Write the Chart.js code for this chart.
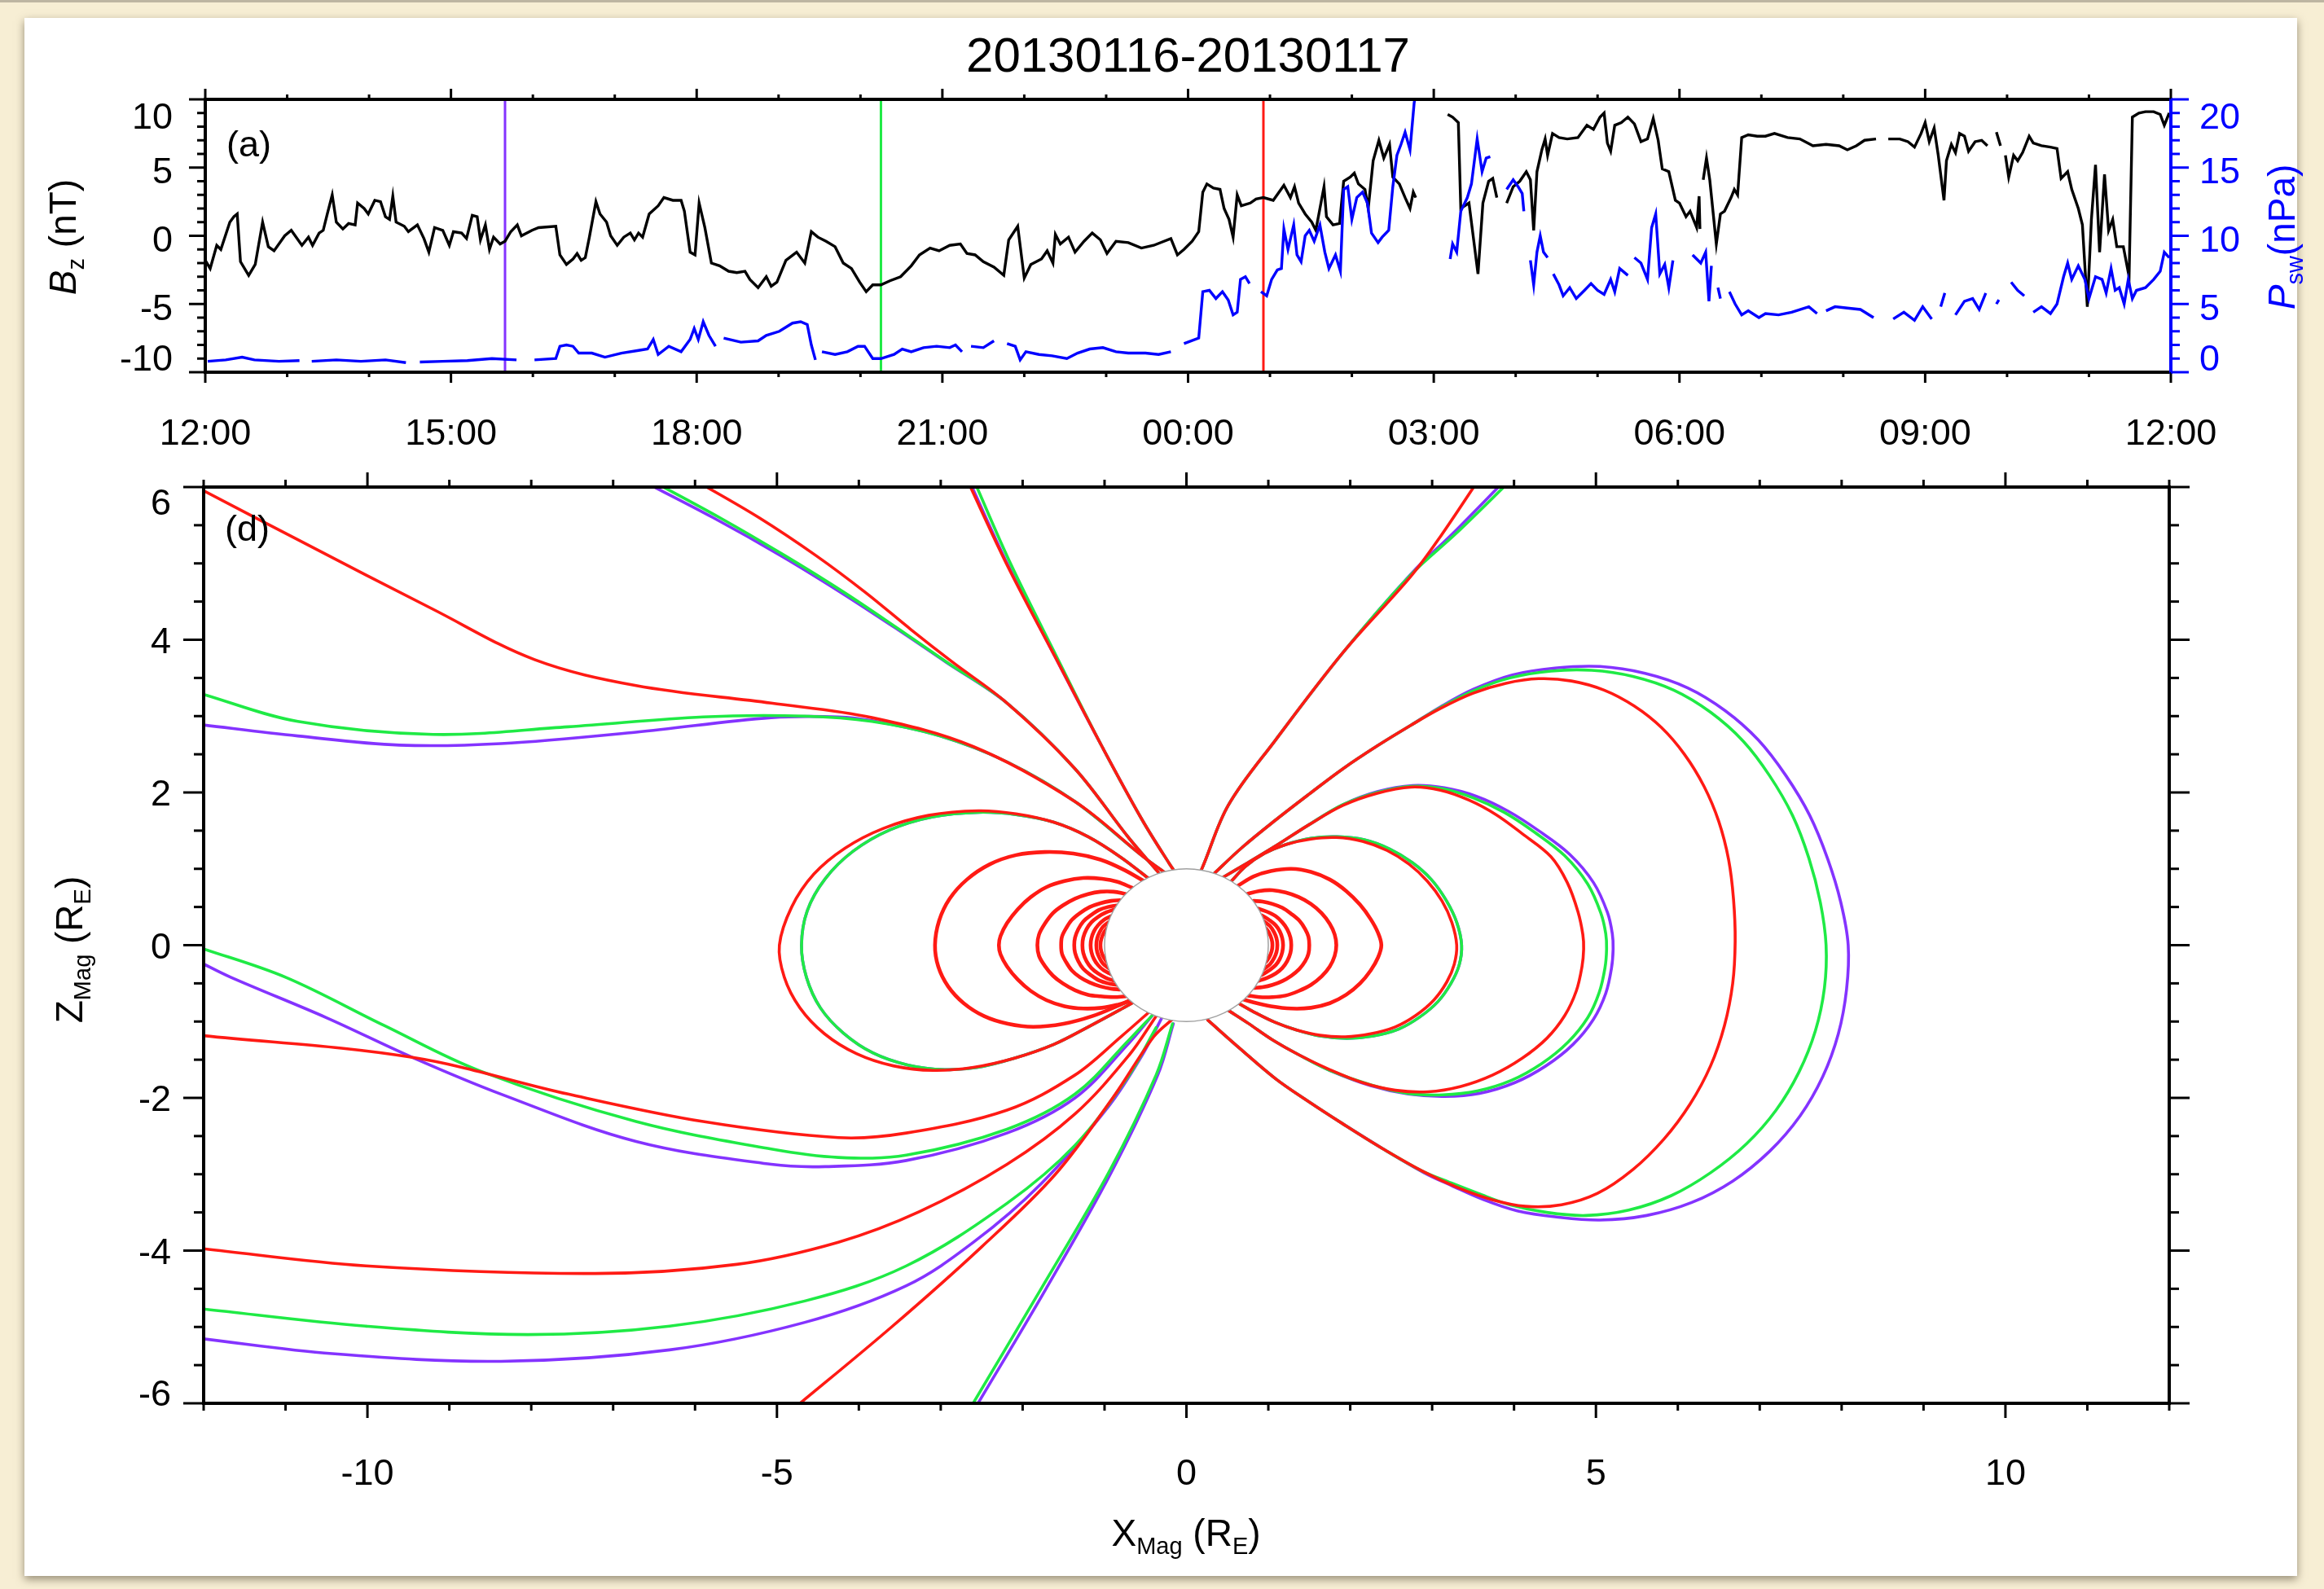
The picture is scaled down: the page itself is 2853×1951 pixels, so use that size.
<!DOCTYPE html>
<html lang="en">
<head>
<meta charset="UTF-8">
<title>20130116-20130117</title>
<script src="https://cdn.jsdelivr.net/npm/chart.js"></script>
<style>
  body { margin: 0; width: 2853px; height: 1951px; background: #f7eed4; overflow: hidden; position: relative; }
  .topline { position: absolute; left: 0; top: 0; width: 2853px; height: 3px; background: #bdb5a2; }
  .panel { position: absolute; left: 30px; top: 22px; width: 2790px; height: 1913px; background: #fff;
           box-shadow: 0 4px 10px rgba(70, 60, 40, 0.55); }
  canvas { position: absolute; left: 0; top: 0; }
</style>
</head>
<body>
<div class="topline"></div>
<div class="panel"></div>
<canvas id="swChart" width="2853" height="1951"></canvas>
<canvas id="fieldChart" width="2853" height="1951"></canvas>
<script>
// ---- panel (a): solar wind Bz and dynamic pressure, hours after 12:00 UT on 16 Jan ----
const timeLabels = ['12:00', '15:00', '18:00', '21:00', '00:00', '03:00', '06:00', '09:00', '12:00'];
const bzTicks = [-10, -5, 0, 5, 10];
const pswTicks = [0, 5, 10, 15, 20];
const markerHours = [3.66, 8.25, 12.92];

const bzSeries = [
  [0.00,-1.8],[0.06,-2.4],[0.14,-0.7],[0.19,-1.0],[0.30,1.0],[0.35,1.4],[0.39,1.6],[0.43,-1.9],[0.53,-2.9],[0.61,-2.1],
  [0.70,1.0],[0.77,-0.8],[0.84,-1.1],[0.97,0.0],[1.05,0.4],[1.18,-0.7],[1.26,-0.1],[1.31,-0.7],[1.39,0.2],[1.44,0.4],
  [1.49,1.6],[1.55,3.0],[1.60,1.0],[1.68,0.5],[1.75,0.9],[1.83,0.8],[1.86,2.4],[1.94,2.0],[1.99,1.6],[2.07,2.6],
  [2.14,2.5],[2.20,1.4],[2.25,1.2],[2.29,2.9],[2.33,1.0],[2.43,0.7],[2.48,0.3],[2.59,0.8],[2.67,-0.2],[2.73,-1.2],
  [2.80,0.6],[2.90,0.4],[2.98,-0.7],[3.03,0.3],[3.13,0.2],[3.19,-0.2],[3.26,1.5],[3.32,1.4],[3.36,-0.3],[3.42,0.8],
  [3.47,-1.0],[3.52,-0.1],[3.60,-0.6],[3.66,-0.4],[3.73,0.3],[3.81,0.8],[3.86,0.0],[3.99,0.4],[4.07,0.6],[4.28,0.7],
  [4.33,-1.4],[4.41,-2.1],[4.49,-1.7],[4.54,-1.3],[4.59,-1.8],[4.64,-1.6],[4.69,-0.1],[4.77,2.5],[4.82,1.6],[4.90,1.0],
  [4.95,0.0],[5.03,-0.7],[5.11,-0.1],[5.19,0.2],[5.24,-0.3],[5.29,0.2],[5.34,-0.1],[5.42,1.6],[5.53,2.2],[5.60,2.8],
  [5.71,2.6],[5.81,2.6],[5.85,1.8],[5.92,-1.2],[5.98,-1.4],[6.03,2.4],[6.10,0.6],[6.18,-2.0],[6.28,-2.2],[6.39,-2.6],
  [6.49,-2.7],[6.59,-2.6],[6.65,-3.2],[6.75,-3.8],[6.85,-3.0],[6.91,-3.7],[6.98,-3.4],[7.09,-1.8],[7.22,-1.2],[7.32,-2.0],
  [7.40,0.3],[7.48,-0.1],[7.58,-0.4],[7.69,-0.8],[7.79,-2.0],[7.89,-2.4],[7.99,-3.4],[8.07,-4.1],[8.15,-3.6],[8.25,-3.6],
  [8.36,-3.3],[8.49,-3.0],[8.62,-2.2],[8.72,-1.4],[8.85,-0.9],[8.96,-1.1],[9.09,-0.7],[9.22,-0.6],[9.30,-1.3],[9.40,-1.4],
  [9.50,-1.9],[9.63,-2.3],[9.75,-2.9],[9.81,-0.3],[9.92,0.7],[10.00,-3.1],[10.08,-2.1],[10.21,-1.7],[10.28,-1.1],[10.35,-2.0],
  [10.38,0.1],[10.44,-0.6],[10.54,-0.1],[10.62,-1.2],[10.73,-0.4],[10.83,0.2],[10.93,-0.3],[11.01,-1.3],[11.12,-0.4],[11.27,-0.5],
  [11.43,-0.9],[11.58,-0.7],[11.79,-0.2],[11.87,-1.4],[11.95,-1.0],[12.05,-0.4],[12.13,0.3],[12.18,3.2],[12.23,3.8],[12.31,3.5],
  [12.39,3.4],[12.44,2.0],[12.50,1.2],[12.55,-0.1],[12.60,3.0],[12.65,2.2],[12.76,2.4],[12.83,2.7],[12.92,2.8],[13.04,2.6],
  [13.17,3.7],[13.25,2.8],[13.30,3.6],[13.35,2.4],[13.43,1.6],[13.51,1.0],[13.56,0.4],[13.66,3.6],[13.69,1.4],[13.77,0.8],
  [13.85,0.9],[13.90,4.0],[13.98,4.3],[14.03,4.6],[14.08,3.8],[14.16,3.4],[14.20,2.0],[14.26,5.5],[14.33,7.0],[14.39,5.7],
  [14.46,6.7],[14.50,4.3],[14.58,3.8],[14.65,2.8],[14.71,2.0],[14.75,3.2],[14.78,2.8],[15.00,null],[15.17,8.9],[15.23,8.7],
  [15.30,8.3],[15.33,2.0],[15.43,2.4],[15.54,-2.8],[15.60,2.4],[15.67,4.0],[15.72,4.2],[15.77,2.8],[15.83,null],[15.89,2.4],
  [15.97,3.6],[16.05,4.0],[16.13,4.7],[16.18,4.1],[16.22,0.4],[16.26,4.7],[16.32,6.3],[16.36,7.1],[16.39,5.9],[16.45,7.5],
  [16.53,7.2],[16.63,7.1],[16.76,7.2],[16.87,8.1],[16.95,7.8],[17.03,8.7],[17.08,9.0],[17.12,6.8],[17.16,6.2],[17.21,8.1],
  [17.29,8.3],[17.37,8.7],[17.45,8.2],[17.53,6.9],[17.61,7.1],[17.68,8.6],[17.74,7.0],[17.79,4.9],[17.87,4.7],[17.95,2.6],
  [18.00,2.4],[18.08,1.4],[18.13,1.8],[18.21,0.6],[18.24,2.9],[18.25,0.5],[18.27,null],[18.29,4.1],[18.33,5.7],[18.37,4.1],
  [18.45,-0.6],[18.50,1.6],[18.55,1.8],[18.63,2.8],[18.67,3.4],[18.71,3.0],[18.76,7.2],[18.84,7.4],[18.95,7.3],[19.05,7.3],
  [19.16,7.5],[19.32,7.2],[19.47,7.1],[19.63,6.6],[19.79,6.7],[19.95,6.6],[20.05,6.3],[20.16,6.6],[20.26,7.0],[20.40,7.1],
  [20.47,null],[20.55,7.1],[20.69,7.1],[20.79,6.9],[20.87,6.5],[20.95,7.5],[21.00,8.3],[21.05,6.9],[21.11,7.9],[21.16,5.9],
  [21.23,2.6],[21.26,5.5],[21.32,6.7],[21.37,6.1],[21.42,7.5],[21.48,7.3],[21.53,6.2],[21.61,6.9],[21.69,7.0],[21.76,6.6],
  [21.82,null],[21.87,7.6],[21.92,6.6],[21.95,null],[21.98,5.9],[22.02,4.3],[22.08,5.9],[22.13,5.5],[22.19,6.1],[22.27,7.3],
  [22.32,6.8],[22.42,6.6],[22.53,6.5],[22.61,6.4],[22.66,4.2],[22.74,4.7],[22.79,3.4],[22.87,2.0],[22.92,0.8],[22.98,-5.2],
  [23.03,1.2],[23.08,5.2],[23.13,-1.2],[23.19,4.5],[23.24,0.4],[23.29,1.2],[23.34,-0.8],[23.42,-0.8],[23.49,-3.0],[23.53,8.7],
  [23.61,9.0],[23.69,9.1],[23.79,9.1],[23.87,8.9],[23.92,8.1],[23.98,9.0]
];

const pswSeries = [
  [0.03,0.8],[0.25,0.9],[0.45,1.1],[0.60,0.9],[0.90,0.8],[1.15,0.85],[1.22,null],[1.30,0.8],[1.60,0.9],[1.90,0.8],
  [2.20,0.9],[2.45,0.7],[2.55,null],[2.62,0.75],[2.90,0.8],[3.20,0.85],[3.50,1.0],[3.80,0.9],[3.95,null],[4.02,0.9],
  [4.28,1.0],[4.33,1.9],[4.41,2.0],[4.49,1.9],[4.56,1.4],[4.72,1.4],[4.88,1.1],[5.08,1.4],[5.29,1.6],[5.40,1.7],
  [5.47,2.4],[5.53,1.3],[5.66,1.9],[5.81,1.5],[5.92,2.4],[5.97,3.2],[6.02,2.4],[6.08,3.7],[6.15,2.7],[6.23,1.9],
  [6.28,null],[6.33,2.5],[6.54,2.2],[6.75,2.3],[6.85,2.7],[7.01,3.0],[7.17,3.6],[7.27,3.7],[7.35,3.5],[7.40,2.0],
  [7.45,0.9],[7.49,null],[7.53,1.5],[7.69,1.3],[7.84,1.5],[7.97,1.9],[8.05,1.9],[8.15,1.0],[8.25,1.0],[8.41,1.3],
  [8.51,1.7],[8.62,1.5],[8.77,1.8],[8.93,1.9],[9.09,1.8],[9.16,2.0],[9.24,1.5],[9.30,null],[9.35,1.9],[9.50,1.8],
  [9.63,2.3],[9.70,null],[9.79,2.1],[9.89,1.9],[9.95,0.9],[10.02,1.5],[10.18,1.3],[10.34,1.2],[10.52,1.0],[10.65,1.4],
  [10.80,1.7],[10.96,1.8],[11.12,1.5],[11.27,1.4],[11.48,1.4],[11.64,1.3],[11.79,1.5],[11.87,null],[11.95,2.1],[12.13,2.5],
  [12.18,5.9],[12.26,6.0],[12.34,5.4],[12.42,5.9],[12.49,5.3],[12.55,4.2],[12.60,4.4],[12.64,6.8],[12.70,7.0],[12.75,6.5],
  [12.82,null],[12.89,5.9],[12.96,5.6],[13.02,6.8],[13.09,7.5],[13.14,7.6],[13.17,10.5],[13.22,9.0],[13.29,10.8],[13.33,8.6],
  [13.38,8.1],[13.43,10.0],[13.48,10.4],[13.54,9.6],[13.61,10.8],[13.67,8.8],[13.72,7.6],[13.80,8.6],[13.86,7.4],[13.90,13.4],
  [13.95,13.6],[14.00,11.2],[14.06,12.8],[14.13,13.2],[14.19,12.4],[14.24,10.2],[14.32,9.5],[14.37,9.9],[14.45,10.4],[14.50,13.6],
  [14.55,15.9],[14.60,16.7],[14.65,17.6],[14.71,16.3],[14.76,19.7],[14.78,20.5],[15.00,null],[15.20,8.3],[15.23,9.4],[15.28,8.8],
  [15.33,11.8],[15.41,12.8],[15.46,13.8],[15.53,17.1],[15.59,14.7],[15.64,15.7],[15.69,15.8],[15.80,null],[15.89,13.4],[15.97,14.1],
  [16.03,13.6],[16.08,13.1],[16.10,11.8],[16.14,null],[16.18,8.2],[16.22,6.4],[16.26,8.8],[16.30,10.0],[16.34,8.8],[16.39,8.4],
  [16.42,null],[16.46,7.2],[16.53,6.4],[16.58,5.6],[16.66,6.2],[16.74,5.4],[16.84,6.0],[16.92,6.5],[17.00,6.0],[17.08,5.7],
  [17.16,6.8],[17.21,5.9],[17.27,7.6],[17.37,7.1],[17.41,null],[17.45,8.4],[17.53,8.0],[17.61,6.8],[17.66,10.6],[17.71,11.6],
  [17.76,7.2],[17.82,7.9],[17.87,6.2],[17.92,8.2],[18.04,null],[18.16,8.6],[18.26,8.0],[18.32,8.8],[18.36,5.2],[18.39,7.8],
  [18.43,null],[18.47,6.2],[18.50,5.4],[18.55,null],[18.61,5.9],[18.68,5.0],[18.76,4.2],[18.84,4.5],[18.97,4.0],[19.05,4.3],
  [19.21,4.2],[19.37,4.4],[19.58,4.8],[19.68,4.3],[19.73,null],[19.79,4.5],[19.90,4.8],[20.05,4.7],[20.21,4.6],[20.37,4.0],
  [20.50,null],[20.61,3.9],[20.74,4.4],[20.87,3.8],[20.97,4.8],[21.08,3.9],[21.14,null],[21.19,4.8],[21.24,5.8],[21.30,null],
  [21.37,4.2],[21.48,5.2],[21.58,5.4],[21.66,4.6],[21.74,5.8],[21.82,null],[21.87,5.0],[21.90,5.3],[21.97,null],[22.05,6.6],
  [22.13,6.0],[22.21,5.6],[22.27,null],[22.32,4.4],[22.42,4.8],[22.53,4.3],[22.61,5.0],[22.69,7.0],[22.74,8.0],[22.79,6.8],
  [22.87,7.8],[22.95,6.8],[23.00,5.4],[23.08,7.0],[23.16,6.8],[23.21,5.8],[23.27,7.6],[23.32,6.0],[23.37,6.2],[23.43,5.0],
  [23.48,6.8],[23.53,5.4],[23.58,6.0],[23.69,6.2],[23.79,6.8],[23.87,7.4],[23.92,8.8],[23.98,8.4]
];

// ---- panel (d): field lines in the X-Z magnetic plane, Earth radii ----
const xTicks = [-10, -5, 0, 5, 10];
const zTicks = [-6, -4, -2, 0, 2, 4, 6];
const earthRadius = 1;

// closed loops that sit on top of each other for all three times
const innerLoops = [
  [[-0.97,0.22],[-1.01,0.16],[-1.04,0.08],[-1.05,0],[-1.04,-0.08],[-1.01,-0.16],[-0.97,-0.22]],
  [[-0.95,0.30],[-1.02,0.24],[-1.06,0.17],[-1.09,0.09],[-1.10,0],[-1.09,-0.09],[-1.06,-0.17],[-1.02,-0.24],[-0.95,-0.30]],
  [[-0.92,0.38],[-1.01,0.33],[-1.08,0.26],[-1.13,0.18],[-1.16,0.09],[-1.17,0],[-1.16,-0.09],[-1.13,-0.18],[-1.08,-0.26],[-1.01,-0.33],[-0.92,-0.38]],
  [[-0.87,0.47],[-0.98,0.43],[-1.08,0.37],[-1.16,0.30],[-1.22,0.21],[-1.26,0.10],[-1.27,0],[-1.26,-0.10],[-1.22,-0.21],[-1.16,-0.30],[-1.08,-0.37],[-0.98,-0.43],[-0.87,-0.47]],
  [[-0.85,0.52],[-0.96,0.50],[-1.07,0.46],[-1.17,0.39],[-1.26,0.31],[-1.32,0.21],[-1.36,0.10],[-1.37,0],[-1.36,-0.10],[-1.32,-0.21],[-1.26,-0.31],[-1.17,-0.39],[-1.07,-0.46],[-0.96,-0.50],[-0.85,-0.52]],
  [[-0.81,0.59],[-0.92,0.58],[-1.05,0.55],[-1.18,0.50],[-1.30,0.42],[-1.40,0.33],[-1.47,0.22],[-1.52,0.11],[-1.53,0],[-1.52,-0.11],[-1.47,-0.22],[-1.40,-0.33],[-1.30,-0.42],[-1.18,-0.49],[-1.05,-0.54],[-0.92,-0.57],[-0.81,-0.58]],
  [[-0.74,0.67],[-0.89,0.70],[-1.05,0.70],[-1.20,0.67],[-1.36,0.61],[-1.51,0.52],[-1.63,0.42],[-1.73,0.28],[-1.80,0.14],[-1.82,0],[-1.80,-0.14],[-1.73,-0.27],[-1.63,-0.40],[-1.51,-0.50],[-1.36,-0.59],[-1.20,-0.65],[-1.05,-0.67],[-0.89,-0.68],[-0.74,-0.67]],
  [[-0.66,0.75],[-0.84,0.83],[-1.03,0.87],[-1.26,0.88],[-1.49,0.84],[-1.71,0.76],[-1.90,0.63],[-2.06,0.47],[-2.19,0.29],[-2.27,0.12],[-2.29,0],[-2.27,-0.12],[-2.19,-0.28],[-2.06,-0.45],[-1.90,-0.60],[-1.71,-0.72],[-1.49,-0.80],[-1.26,-0.83],[-1.03,-0.82],[-0.84,-0.78],[-0.68,-0.73]],
  [[-0.46,0.80],[-0.75,0.98],[-1.05,1.12],[-1.38,1.20],[-1.73,1.22],[-2.08,1.18],[-2.40,1.06],[-2.68,0.86],[-2.89,0.61],[-3.02,0.32],[-3.07,0],[-3.03,-0.28],[-2.91,-0.54],[-2.72,-0.76],[-2.47,-0.93],[-2.18,-1.03],[-1.87,-1.07],[-1.50,-1.03],[-1.15,-0.93],[-0.85,-0.80],[-0.55,-0.65]],
  [[0.97,0.22],[1.01,0.16],[1.04,0.08],[1.05,0],[1.04,-0.08],[1.01,-0.16],[0.97,-0.22]],
  [[0.95,0.31],[1.02,0.25],[1.07,0.17],[1.10,0.09],[1.11,0],[1.10,-0.09],[1.07,-0.17],[1.02,-0.25],[0.95,-0.31]],
  [[0.92,0.39],[1.01,0.33],[1.09,0.26],[1.14,0.18],[1.17,0.09],[1.18,0],[1.17,-0.09],[1.14,-0.18],[1.09,-0.26],[1.01,-0.33],[0.92,-0.39]],
  [[0.87,0.48],[0.98,0.44],[1.09,0.38],[1.17,0.30],[1.23,0.21],[1.27,0.10],[1.28,0],[1.27,-0.10],[1.23,-0.21],[1.17,-0.30],[1.09,-0.37],[0.98,-0.43],[0.87,-0.47]],
  [[0.82,0.58],[0.93,0.57],[1.05,0.54],[1.17,0.49],[1.28,0.41],[1.38,0.32],[1.45,0.21],[1.49,0.11],[1.50,0],[1.49,-0.11],[1.45,-0.21],[1.38,-0.31],[1.28,-0.40],[1.17,-0.47],[1.05,-0.52],[0.93,-0.55],[0.82,-0.56]],
  [[0.74,0.67],[0.89,0.71],[1.05,0.72],[1.21,0.69],[1.37,0.63],[1.52,0.54],[1.65,0.42],[1.75,0.28],[1.81,0.14],[1.83,0],[1.81,-0.14],[1.75,-0.28],[1.65,-0.41],[1.52,-0.52],[1.37,-0.60],[1.21,-0.66],[1.05,-0.68],[0.89,-0.68],[0.75,-0.66]],
  [[0.63,0.78],[0.82,0.90],[1.03,0.97],[1.28,1.0],[1.52,0.96],[1.75,0.86],[1.95,0.71],[2.12,0.53],[2.25,0.34],[2.34,0.16],[2.38,0],[2.34,-0.16],[2.25,-0.33],[2.12,-0.50],[1.95,-0.65],[1.75,-0.76],[1.52,-0.82],[1.28,-0.83],[1.03,-0.80],[0.82,-0.75],[0.66,-0.70]]
];

const redLines = [
  [[-12.05,5.98],[-10.85,5.31],[-9.2,4.40],[-7.96,3.74],[-6.72,3.40],[-5.07,3.17],[-3.84,2.98],[-2.60,2.60],[-1.36,1.88],[-0.54,1.17],[-0.2,0.9]],
  [[-6.02,6.1],[-5.22,5.6],[-4.52,5.1],[-3.92,4.62],[-3.36,4.13],[-2.86,3.71],[-2.19,3.17],[-1.36,2.31],[-0.70,1.40],[-0.3,0.9]],
  [[-2.68,6.1],[-2.19,4.98],[-1.61,3.79],[-1.03,2.60],[-0.54,1.64],[-0.21,1.07],[-0.1,0.9]],
  [[-0.41,0.83],[-0.80,1.15],[-1.20,1.42],[-1.62,1.61],[-2.08,1.72],[-2.54,1.76],[-3.15,1.70],[-3.70,1.53],[-4.17,1.27],[-4.55,0.93],[-4.82,0.50],[-4.97,0],[-4.91,-0.42],[-4.72,-0.82],[-4.42,-1.16],[-4.03,-1.42],[-3.58,-1.58],[-3.09,-1.64],[-2.60,-1.60],[-2.10,-1.48],[-1.62,-1.30],[-1.18,-1.06],[-0.80,-0.84],[-0.50,-0.66]],
  [[-12.05,-1.18],[-9.45,-1.47],[-7.55,-1.95],[-5.90,-2.31],[-4.25,-2.52],[-3.42,-2.46],[-2.19,-2.16],[-1.36,-1.70],[-0.79,-1.19],[-0.46,-0.88]],
  [[-12.05,-3.97],[-10.02,-4.20],[-7.22,-4.30],[-5.49,-4.18],[-4.25,-3.89],[-3.26,-3.49],[-2.19,-2.87],[-1.36,-2.21],[-0.70,-1.44],[-0.37,-0.93]],
  [[-4.83,-6.1],[-3.6,-5.0],[-2.5,-3.95],[-1.6,-3.0],[-0.9,-2.0],[-0.4,-1.2],[-0.15,-0.95]],
  [[0.1,0.85],[0.18,0.98],[0.51,1.83],[1.09,2.69],[1.91,3.83],[2.74,4.83],[3.10,5.35],[3.57,6.1]],
  [[0.55,0.84],[0.72,1.03],[0.95,1.20],[1.22,1.32],[1.52,1.39],[1.83,1.41],[2.15,1.36],[2.45,1.24],[2.72,1.06],[2.94,0.84],[3.12,0.58],[3.24,0.30],[3.30,0],[3.27,-0.25],[3.18,-0.48],[3.02,-0.72],[2.80,-0.92],[2.55,-1.07],[2.25,-1.16],[1.94,-1.20],[1.63,-1.18],[1.34,-1.11],[1.08,-1.01],[0.85,-0.89],[0.65,-0.77]],
  [[0.45,0.89],[0.75,1.08],[1.09,1.30],[1.50,1.58],[1.91,1.83],[2.33,1.99],[2.74,2.07],[3.10,2.03],[3.45,1.90],[3.78,1.71],[4.10,1.46],[4.45,1.16],[4.65,0.82],[4.78,0.44],[4.84,0.14],[4.85,-0.05],[4.83,-0.28],[4.76,-0.60],[4.62,-0.92],[4.40,-1.22],[4.10,-1.48],[3.74,-1.70],[3.35,-1.85],[2.95,-1.92],[2.55,-1.90],[2.15,-1.80],[1.75,-1.63],[1.38,-1.44],[1.05,-1.24],[0.75,-1.02],[0.52,-0.86]],
  [[0.3,0.9],[0.68,1.28],[1.09,1.64],[1.50,1.98],[1.91,2.31],[2.33,2.61],[2.74,2.88],[3.10,3.10],[3.50,3.30],[3.90,3.43],[4.30,3.49],[4.70,3.46],[5.10,3.34],[5.47,3.13],[5.80,2.85],[6.08,2.50],[6.32,2.08],[6.50,1.62],[6.62,1.12],[6.68,0.60],[6.70,0.05],[6.67,-0.50],[6.57,-1.05],[6.40,-1.58],[6.15,-2.08],[5.83,-2.54],[5.45,-2.94],[5.02,-3.25],[4.58,-3.40],[4.14,-3.42],[3.72,-3.33],[3.30,-3.17],[2.90,-2.97],[2.42,-2.68],[1.91,-2.34],[1.48,-2.04],[1.09,-1.75],[0.65,-1.35],[0.26,-0.98]]
];

const greenLines = [
  [[-12.05,3.30],[-10.85,2.93],[-9.2,2.76],[-7.55,2.86],[-5.90,2.99],[-4.66,3.0],[-3.84,2.93],[-3.01,2.74],[-2.19,2.40],[-1.36,1.88],[-0.54,1.17],[-0.2,0.9]],
  [[-6.56,6.1],[-5.70,5.6],[-4.90,5.1],[-4.18,4.62],[-3.50,4.13],[-2.93,3.71],[-2.19,3.17],[-1.36,2.31],[-0.70,1.40],[-0.3,0.9]],
  [[-2.60,6.1],[-2.14,4.98],[-1.59,3.79],[-1.03,2.60],[-0.54,1.64],[-0.21,1.07],[-0.1,0.9]],
  [[-0.41,0.83],[-0.80,1.15],[-1.20,1.42],[-1.62,1.61],[-2.08,1.71],[-2.54,1.74],[-3.10,1.68],[-3.62,1.51],[-4.07,1.23],[-4.41,0.87],[-4.63,0.45],[-4.70,0],[-4.64,-0.42],[-4.47,-0.82],[-4.19,-1.15],[-3.83,-1.41],[-3.40,-1.57],[-2.95,-1.63],[-2.55,-1.60],[-2.10,-1.48],[-1.62,-1.30],[-1.18,-1.06],[-0.80,-0.84],[-0.50,-0.66]],
  [[-12.05,-0.03],[-11.0,-0.42],[-9.8,-1.05],[-8.62,-1.65],[-6.72,-2.31],[-5.07,-2.67],[-4.25,-2.78],[-3.42,-2.75],[-2.19,-2.41],[-1.36,-1.95],[-0.70,-1.24],[-0.4,-0.9]],
  [[-12.05,-4.76],[-10.02,-4.99],[-8.04,-5.10],[-6.31,-4.99],[-4.66,-4.66],[-3.42,-4.20],[-2.19,-3.38],[-1.36,-2.62],[-0.70,-1.70],[-0.37,-1.08]],
  [[-2.66,-6.1],[-1.78,-4.51],[-0.95,-2.98],[-0.37,-1.70],[-0.17,-1.03]],
  [[0.1,0.85],[0.18,0.98],[0.51,1.83],[1.09,2.69],[1.91,3.83],[2.74,4.85],[3.30,5.40],[3.97,6.1]],
  [[0.55,0.84],[0.72,1.03],[0.95,1.20],[1.22,1.32],[1.52,1.40],[1.84,1.42],[2.17,1.38],[2.48,1.26],[2.76,1.08],[2.99,0.86],[3.17,0.59],[3.30,0.30],[3.36,0],[3.33,-0.26],[3.23,-0.50],[3.07,-0.74],[2.85,-0.94],[2.59,-1.10],[2.28,-1.19],[1.96,-1.22],[1.63,-1.19],[1.34,-1.11],[1.08,-1.01],[0.85,-0.89],[0.65,-0.77]],
  [[0.45,0.89],[0.75,1.08],[1.09,1.30],[1.50,1.58],[1.91,1.84],[2.33,2.00],[2.74,2.08],[3.12,2.05],[3.50,1.93],[3.88,1.74],[4.25,1.48],[4.62,1.17],[4.90,0.80],[5.06,0.42],[5.12,0.15],[5.13,-0.05],[5.11,-0.30],[5.04,-0.62],[4.90,-0.95],[4.66,-1.27],[4.34,-1.55],[3.97,-1.77],[3.55,-1.91],[3.13,-1.96],[2.70,-1.94],[2.25,-1.83],[1.75,-1.64],[1.38,-1.44],[1.05,-1.24],[0.75,-1.02],[0.52,-0.86]],
  [[0.3,0.9],[0.68,1.28],[1.09,1.64],[1.50,1.98],[1.91,2.31],[2.33,2.61],[2.74,2.88],[3.10,3.11],[3.50,3.33],[3.95,3.50],[4.45,3.59],[4.95,3.60],[5.45,3.52],[5.95,3.34],[6.40,3.05],[6.80,2.67],[7.12,2.22],[7.40,1.70],[7.60,1.14],[7.74,0.56],[7.81,0.0],[7.79,-0.56],[7.68,-1.12],[7.48,-1.66],[7.20,-2.16],[6.84,-2.60],[6.40,-2.98],[5.92,-3.28],[5.40,-3.47],[4.88,-3.54],[4.40,-3.50],[3.95,-3.40],[3.56,-3.25],[3.20,-3.10],[2.90,-2.97],[2.42,-2.68],[1.91,-2.34],[1.48,-2.04],[1.09,-1.75],[0.65,-1.35],[0.26,-0.98]]
];

const purpleLines = [
  [[-12.05,2.89],[-10.85,2.74],[-9.61,2.62],[-8.37,2.64],[-6.72,2.79],[-5.07,2.98],[-4.25,2.99],[-3.84,2.94],[-3.01,2.74],[-2.19,2.40],[-1.36,1.88],[-0.54,1.17],[-0.2,0.9]],
  [[-6.68,6.1],[-5.78,5.6],[-4.95,5.1],[-4.22,4.62],[-3.52,4.13],[-2.94,3.71],[-2.19,3.17],[-1.36,2.31],[-0.70,1.40],[-0.3,0.9]],
  [[-2.66,6.1],[-2.18,4.98],[-1.61,3.79],[-1.03,2.60],[-0.54,1.64],[-0.21,1.07],[-0.1,0.9]],
  [[-0.41,0.83],[-0.80,1.15],[-1.20,1.42],[-1.62,1.61],[-2.08,1.71],[-2.54,1.74],[-3.10,1.68],[-3.62,1.51],[-4.07,1.23],[-4.41,0.87],[-4.63,0.45],[-4.70,0],[-4.64,-0.42],[-4.47,-0.82],[-4.19,-1.15],[-3.83,-1.41],[-3.40,-1.57],[-2.95,-1.63],[-2.55,-1.60],[-2.10,-1.48],[-1.62,-1.30],[-1.18,-1.06],[-0.80,-0.84],[-0.50,-0.66]],
  [[-12.05,-0.22],[-11.67,-0.42],[-10.5,-0.95],[-9.45,-1.47],[-8.37,-1.95],[-6.72,-2.57],[-5.07,-2.87],[-4.41,-2.90],[-3.42,-2.82],[-2.19,-2.46],[-1.36,-2.0],[-0.70,-1.28],[-0.4,-0.9]],
  [[-12.05,-5.15],[-10.43,-5.35],[-8.37,-5.45],[-6.31,-5.30],[-4.66,-4.94],[-3.42,-4.46],[-2.60,-3.89],[-1.78,-3.13],[-0.95,-2.11],[-0.54,-1.44],[-0.3,-0.95]],
  [[-2.60,-6.1],[-1.72,-4.51],[-0.92,-2.98],[-0.35,-1.70],[-0.16,-1.03]],
  [[0.1,0.85],[0.18,0.98],[0.51,1.83],[1.09,2.69],[1.91,3.83],[2.74,4.86],[3.26,5.40],[3.90,6.1]],
  [[0.55,0.84],[0.72,1.03],[0.95,1.20],[1.22,1.32],[1.52,1.40],[1.84,1.42],[2.17,1.38],[2.48,1.26],[2.76,1.08],[2.99,0.86],[3.17,0.59],[3.30,0.30],[3.36,0],[3.33,-0.26],[3.23,-0.50],[3.07,-0.74],[2.85,-0.94],[2.59,-1.10],[2.28,-1.19],[1.96,-1.22],[1.63,-1.19],[1.34,-1.11],[1.08,-1.01],[0.85,-0.89],[0.65,-0.77]],
  [[0.45,0.89],[0.75,1.08],[1.09,1.30],[1.50,1.58],[1.91,1.84],[2.33,2.01],[2.76,2.09],[3.15,2.06],[3.54,1.95],[3.92,1.76],[4.30,1.50],[4.68,1.19],[4.97,0.82],[5.14,0.43],[5.20,0.15],[5.21,-0.05],[5.19,-0.30],[5.12,-0.63],[4.97,-0.97],[4.72,-1.30],[4.39,-1.58],[4.01,-1.80],[3.58,-1.94],[3.15,-1.98],[2.71,-1.95],[2.25,-1.84],[1.75,-1.64],[1.38,-1.44],[1.05,-1.24],[0.75,-1.02],[0.52,-0.86]],
  [[0.3,0.9],[0.68,1.28],[1.09,1.64],[1.50,1.98],[1.91,2.31],[2.33,2.61],[2.74,2.88],[3.10,3.12],[3.50,3.35],[3.98,3.54],[4.50,3.63],[5.05,3.65],[5.60,3.56],[6.12,3.37],[6.58,3.07],[6.98,2.69],[7.32,2.22],[7.61,1.70],[7.83,1.13],[7.99,0.56],[8.08,0.0],[8.06,-0.58],[7.96,-1.16],[7.77,-1.72],[7.49,-2.24],[7.12,-2.70],[6.67,-3.09],[6.17,-3.37],[5.62,-3.54],[5.05,-3.60],[4.52,-3.56],[4.04,-3.48],[3.62,-3.33],[3.24,-3.15],[2.90,-2.98],[2.42,-2.68],[1.91,-2.34],[1.48,-2.04],[1.09,-1.75],[0.65,-1.35],[0.26,-0.98]]
];

// ---- styling ----
const PURPLE = '#8433ff', GREEN = '#1fea45', RED = '#ff1a14', BLUE = '#0000ff';
const FONT = '"Liberation Sans", Arial, Helvetica, sans-serif';
const markerColors = [PURPLE, GREEN, RED];

Chart.defaults.font.family = FONT;

const toPoints = arr => arr.map(([x, y]) => ({ x, y }));

function seg(ctx, x1, y1, x2, y2) {
  ctx.beginPath(); ctx.moveTo(x1, y1); ctx.lineTo(x2, y2); ctx.stroke();
}

// label built from plain, italic and subscript pieces, centred on (x, y)
function richText(ctx, parts, x, y, angle, size, color) {
  ctx.save();
  ctx.translate(x, y);
  ctx.rotate(angle);
  ctx.fillStyle = color;
  ctx.textBaseline = 'middle';
  ctx.textAlign = 'left';
  const fontOf = p => (p.italic ? 'italic ' : '') + Math.round(p.sub ? size * 0.62 : size) + 'px ' + FONT;
  let total = 0;
  parts.forEach(p => { ctx.font = fontOf(p); total += ctx.measureText(p.t).width; });
  let cx = -total / 2;
  parts.forEach(p => {
    ctx.font = fontOf(p);
    ctx.fillText(p.t, cx, p.sub ? size * 0.32 : 0);
    cx += ctx.measureText(p.t).width;
  });
  ctx.restore();
}

// end labels are pulled inside the frame, the others sit just under their tick
function labelShift(v, lo, hi) { return v === hi ? 24 : v === lo ? -14 : 7; }

const swAxes = {
  id: 'swAxes',
  afterDraw(chart) {
    const { ctx, chartArea: a, scales: { x, y, y2 } } = chart;
    ctx.save();
    ctx.lineWidth = 4;
    ctx.strokeStyle = '#000';
    ctx.beginPath();
    ctx.moveTo(a.right, a.top); ctx.lineTo(a.left, a.top);
    ctx.lineTo(a.left, a.bottom); ctx.lineTo(a.right, a.bottom);
    ctx.stroke();
    ctx.strokeStyle = BLUE;
    seg(ctx, a.right, a.top - 2, a.right, a.bottom + 2);

    ctx.lineWidth = 3;
    ctx.strokeStyle = '#000';
    for (let h = 0; h <= 24; h++) {
      const px = x.getPixelForValue(h);
      const len = h % 3 === 0 ? 13 : 6;
      seg(ctx, px, a.top, px, a.top - len);
      seg(ctx, px, a.bottom, px, a.bottom + len);
    }
    for (let v = -10; v <= 10; v++) {
      const py = y.getPixelForValue(v);
      seg(ctx, a.left, py, a.left - (v % 5 === 0 ? 20 : 10), py);
    }
    ctx.strokeStyle = BLUE;
    for (let v = 0; v <= 20; v++) {
      const py = y2.getPixelForValue(v);
      seg(ctx, a.right, py, a.right + (v % 5 === 0 ? 22 : 11), py);
    }

    ctx.textBaseline = 'middle';
    ctx.font = '45px ' + FONT;
    ctx.fillStyle = '#000';
    ctx.textAlign = 'center';
    timeLabels.forEach((s, i) => ctx.fillText(s, x.getPixelForValue(i * 3), 534));
    ctx.textAlign = 'right';
    bzTicks.forEach(v => ctx.fillText(String(v), 212, y.getPixelForValue(v) + labelShift(v, -10, 10)));
    ctx.textAlign = 'left';
    ctx.fillStyle = BLUE;
    pswTicks.forEach(v => ctx.fillText(String(v), 2700, y2.getPixelForValue(v) + labelShift(v, 0, 20)));

    ctx.fillStyle = '#000';
    ctx.textAlign = 'left';
    ctx.font = '45px ' + FONT;
    ctx.fillText('(a)', a.left + 26, 180);
    ctx.textAlign = 'center';
    ctx.font = '60px ' + FONT;
    ctx.fillText('20130116-20130117', (a.left + a.right) / 2, 71);

    richText(ctx, [{ t: 'B', italic: true }, { t: 'z', sub: true }, { t: ' (nT)' }], 80, 291, -Math.PI / 2, 46, '#000');
    richText(ctx, [{ t: 'P', italic: true }, { t: 'sw', sub: true }, { t: '(nPa)' }], 2804, 291, -Math.PI / 2, 46, BLUE);
    ctx.restore();
  }
};

const fieldAxes = {
  id: 'fieldAxes',
  afterDatasetsDraw(chart) {
    // Earth drawn over the line footpoints
    const { ctx, scales: { x, y } } = chart;
    const cx = x.getPixelForValue(0), cy = y.getPixelForValue(0);
    const rx = x.getPixelForValue(earthRadius) - cx, ry = cy - y.getPixelForValue(earthRadius);
    ctx.save();
    ctx.beginPath();
    ctx.ellipse(cx, cy, rx, ry, 0, 0, Math.PI * 2);
    ctx.fillStyle = '#fff';
    ctx.fill();
    ctx.strokeStyle = '#a0a0a0';
    ctx.lineWidth = 1.5;
    ctx.stroke();
    ctx.restore();
  },
  afterDraw(chart) {
    const { ctx, chartArea: a, scales: { x, y } } = chart;
    ctx.save();
    ctx.lineWidth = 4;
    ctx.strokeStyle = '#000';
    ctx.strokeRect(a.left, a.top, a.right - a.left, a.bottom - a.top);

    ctx.lineWidth = 3;
    for (let v = -12; v <= 12; v++) {
      const px = x.getPixelForValue(v);
      const len = v % 5 === 0 ? 18 : 9;
      seg(ctx, px, a.top, px, a.top - len);
      seg(ctx, px, a.bottom, px, a.bottom + len);
    }
    for (let k = -12; k <= 12; k++) {
      const py = y.getPixelForValue(k / 2);
      const len = k % 4 === 0 ? 25 : 12;
      seg(ctx, a.left, py, a.left - len, py);
      seg(ctx, a.right, py, a.right + len, py);
    }

    ctx.fillStyle = '#000';
    ctx.textBaseline = 'middle';
    ctx.font = '45px ' + FONT;
    ctx.textAlign = 'center';
    xTicks.forEach(v => ctx.fillText(String(v), x.getPixelForValue(v), 1811));
    ctx.textAlign = 'right';
    zTicks.forEach(v => {
      const shift = v === 6 ? 22 : v === -6 ? -9 : 4;
      ctx.fillText(String(v), 210, y.getPixelForValue(v) + shift);
    });
    ctx.textAlign = 'left';
    ctx.fillText('(d)', a.left + 26, 652);

    richText(ctx, [{ t: 'X' }, { t: 'Mag', sub: true }, { t: ' (R' }, { t: 'E', sub: true }, { t: ')' }], 1456, 1885, 0, 46, '#000');
    richText(ctx, [{ t: 'Z' }, { t: 'Mag', sub: true }, { t: ' (R' }, { t: 'E', sub: true }, { t: ')' }], 88, 1166, -Math.PI / 2, 46, '#000');
    ctx.restore();
  }
};

const lineBase = { showLine: true, pointRadius: 0, pointHoverRadius: 0, fill: false };

// first dataset ends up on top, so blue pressure sits over black Bz
new Chart(document.getElementById('swChart'), {
  type: 'scatter',
  data: {
    datasets: [
      { ...lineBase, data: toPoints(pswSeries), yAxisID: 'y2', borderColor: BLUE, borderWidth: 3.4, spanGaps: false },
      { ...lineBase, data: toPoints(bzSeries), yAxisID: 'y', borderColor: '#000', borderWidth: 3.4, spanGaps: false },
      ...markerHours.map((h, i) => ({
        ...lineBase, data: [{ x: h, y: bzTicks[0] }, { x: h, y: bzTicks[bzTicks.length - 1] }],
        yAxisID: 'y', borderColor: markerColors[i], borderWidth: 3
      }))
    ]
  },
  options: {
    responsive: false,
    devicePixelRatio: 1,
    animation: false,
    events: [],
    layout: { padding: { left: 252, top: 122, right: 188, bottom: 1494 } },
    plugins: { legend: { display: false }, tooltip: { enabled: false } },
    scales: {
      x: { type: 'linear', min: 0, max: 24, display: false },
      y: { type: 'linear', min: -10, max: 10, display: false },
      y2: { type: 'linear', min: 0, max: 20, display: false, position: 'right' }
    }
  },
  plugins: [swAxes]
});

const fieldSets = [];
const addLines = (lines, color, width) => lines.forEach(l => fieldSets.push({
  ...lineBase, data: toPoints(l), borderColor: color, borderWidth: width, tension: 0.35, borderCapStyle: 'round', borderJoinStyle: 'round'
}));
addLines(innerLoops, RED, 4.6);
addLines(redLines, RED, 3.6);
addLines(greenLines, GREEN, 3.6);
addLines(purpleLines, PURPLE, 3.6);

new Chart(document.getElementById('fieldChart'), {
  type: 'scatter',
  data: { datasets: fieldSets },
  options: {
    responsive: false,
    devicePixelRatio: 1,
    animation: false,
    events: [],
    layout: { padding: { left: 250, top: 598, right: 190, bottom: 228 } },
    plugins: { legend: { display: false }, tooltip: { enabled: false } },
    scales: {
      x: { type: 'linear', min: -12, max: 12, display: false },
      y: { type: 'linear', min: -6, max: 6, display: false }
    }
  },
  plugins: [fieldAxes]
});
</script>
</body>
</html>
